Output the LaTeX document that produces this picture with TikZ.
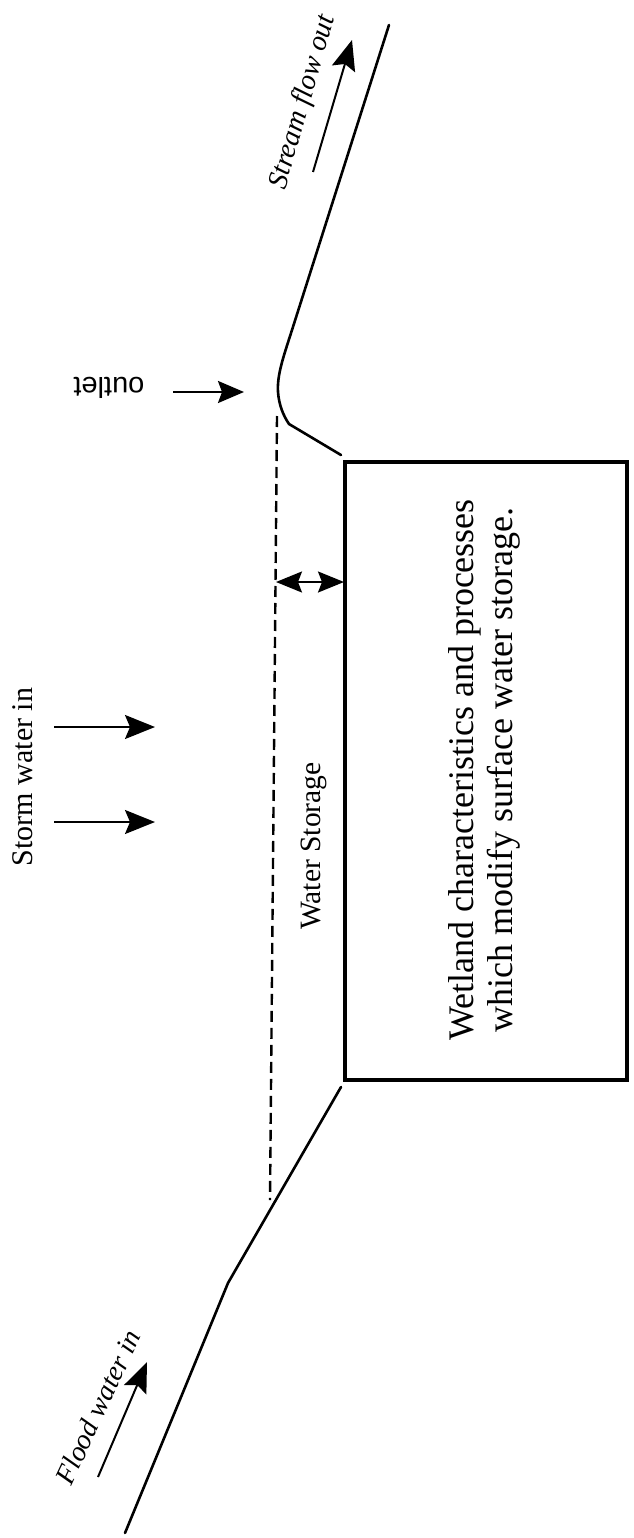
\documentclass[tikz,border=0pt]{standalone}
\usepackage{fontspec}
\setmainfont{Liberation Serif}
\newfontfamily\outletfont{Liberation Sans}
\usetikzlibrary{arrows.meta}
\begin{document}
\begin{tikzpicture}[x=1pt,y=-1pt,
  ground/.style={line width=2.6pt, line join=round, line cap=round},
  waterline/.style={line width=2.4pt, dash pattern=on 11pt off 6pt},
  flowarrow/.style={line width=2pt, -{Stealth[length=30pt,width=24pt,inset=5pt]}},
  smallarrow/.style={line width=2.2pt, -{Stealth[length=26pt,width=22pt,inset=4pt]}},
  botharrow/.style={line width=2pt, {Stealth[length=26pt,width=21pt,inset=4pt]}-{Stealth[length=26pt,width=21pt,inset=4pt]}},
  lbl/.style={inner sep=0pt}]
\fill[white] (0,0) rectangle (633,1538);
\useasboundingbox (0,0) rectangle (633,1538);

% ground profile: flood side
\coordinate (f0) at (125,1533);
\coordinate (f1) at (228,1283);
\coordinate (f2) at (341,1087);
\draw[ground] (f0) -- (f1) -- (f2);

% ground profile: outlet / stream side
\coordinate (s0) at (341,455);
\coordinate (s1) at (289,424);
\coordinate (s2) at (278,392);
\coordinate (s3) at (292,330);
\coordinate (s4) at (389,25);
\draw[ground] (s4) -- (s3) .. controls (283,358) and (277,375) .. (s2)
  .. controls (279,405) and (283,415) .. (s1) -- (s0);

% water level (dashed)
\coordinate (d0) at (277,416);
\coordinate (d1) at (270,1200);
\draw[waterline] (d0) -- (d1);

% wetland box
\node[draw, line width=3.2pt, minimum width=282pt, minimum height=618pt, inner sep=0pt, outer sep=0pt] (box) at (486,771) {};
\node[lbl, rotate=90, align=center, font=\fontsize{36}{39}\selectfont] (boxtext) at (484,770)
  {Wetland characteristics and processes\\ which modify surface water storage.};

% water storage double arrow
\coordinate (ws0) at (276,582);
\coordinate (ws1) at (344,582);
\draw[botharrow] (ws0) -- (ws1);
\node[lbl, rotate=90, font=\fontsize{29.5}{34}\selectfont] (wslabel) at (314,846) {Water Storage};

% storm water
\coordinate (sa0) at (54,727);
\coordinate (sa1) at (155,727);
\coordinate (sb0) at (54,822);
\coordinate (sb1) at (155,822);
\draw[flowarrow] (sa0) -- (sa1);
\draw[flowarrow] (sb0) -- (sb1);
\node[lbl, rotate=90, font=\fontsize{30}{34}\selectfont] (storm) at (23,777) {Storm water in};

% outlet
\coordinate (o0) at (173,392);
\coordinate (o1) at (244,392);
\draw[smallarrow] (o0) -- (o1);
\node[lbl, rotate=180, font=\outletfont\fontsize{29}{34}\selectfont] (outlet) at (109,388) {outlet};

% stream flow out
\coordinate (st0) at (313,172);
\coordinate (st1) at (352,40);
\draw[flowarrow] (st0) -- (st1);
\node[lbl, rotate=74, font=\itshape\fontsize{28.5}{34}\selectfont] (stream) at (303,102) {Stream flow out};

% flood water in
\coordinate (fl0) at (98,1477);
\coordinate (fl1) at (147,1362);
\draw[flowarrow] (fl0) -- (fl1);
\node[lbl, rotate=65, font=\itshape\fontsize{28}{34}\selectfont] (flood) at (98,1407) {Flood water in};
\end{tikzpicture}
\end{document}
